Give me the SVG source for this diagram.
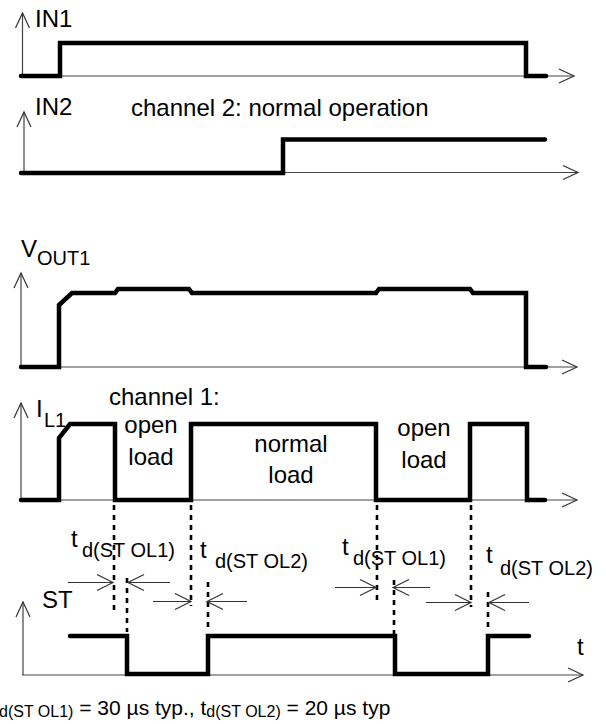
<svg xmlns="http://www.w3.org/2000/svg" width="606" height="724" viewBox="0 0 606 724">
<style>
text{font-family:"Liberation Sans",Arial,Helvetica,sans-serif;fill:#000}
.lbl{font-size:24px}
.sub{font-size:20px}
.mid{text-anchor:middle}
.axis{fill:none;stroke:#444;stroke-width:1.2}
.sig{fill:none;stroke:#000;stroke-width:4.5;stroke-linecap:round;stroke-linejoin:miter}
.dot{fill:none;stroke:#000;stroke-width:2.6;stroke-dasharray:5 5}
.dim{fill:none;stroke:#333;stroke-width:1.1}
</style>
<defs>
<marker id="ah" markerUnits="userSpaceOnUse" markerWidth="18" markerHeight="18" refX="16" refY="8" orient="auto" overflow="visible">
<path d="M0,0 L16,8 L0,16" fill="none" stroke="#333" stroke-width="1.2"/>
</marker>
<marker id="ax" markerUnits="userSpaceOnUse" markerWidth="18" markerHeight="18" refX="15" refY="7" orient="auto" overflow="visible">
<path d="M0,0 L15,7 L0,14" fill="none" stroke="#333" stroke-width="1.2"/>
</marker>
</defs>

<g id="in1">
<line class="axis" x1="22.5" y1="76" x2="22.5" y2="13" marker-end="url(#ax)"/>
<line class="axis" x1="20" y1="76" x2="574" y2="76" marker-end="url(#ax)"/>
<path class="sig" d="M21,76 H60 V43 H526 V76 H546"/>
<text class="lbl" x="35" y="27">IN1</text>
</g>

<g id="in2">
<line class="axis" x1="24" y1="173" x2="24" y2="112" marker-end="url(#ax)"/>
<line class="axis" x1="22" y1="172.5" x2="578" y2="172.5" marker-end="url(#ax)"/>
<path class="sig" d="M21,173 H283 V139.5 H545"/>
<text class="lbl" x="35" y="115">IN2</text>
<text class="lbl" x="131" y="116" font-size="25">channel 2: normal operation</text>
</g>

<g id="vout1">
<line class="axis" x1="21" y1="367" x2="21" y2="273" marker-end="url(#ax)"/>
<line class="axis" x1="21" y1="367" x2="577" y2="367" marker-end="url(#ax)"/>
<path class="sig" d="M21,367 H59 V305 L72,293 H115 L118,289 H189 L192,293 H376 L379,289 H470 L473,293 H526 V367 H546"/>
<text class="lbl" x="21" y="257">V<tspan class="sub" x="37" y="265">OUT1</tspan></text>
</g>

<g id="il1">
<line class="axis" x1="21" y1="500" x2="21" y2="403" marker-end="url(#ax)"/>
<line class="axis" x1="21" y1="500" x2="577" y2="500" marker-end="url(#ax)"/>
<path class="sig" d="M21,500 H59 V438 L70,424 H115 V500 H191 V424 H376 V500 H470 V424 H527 V500 H545"/>
<text class="lbl" x="36" y="417">I<tspan class="sub" x="44" y="427">L1</tspan></text>
<text class="lbl" x="109" y="405">channel 1:</text>
<text class="lbl mid" x="151" y="433">open</text>
<text class="lbl mid" x="151" y="465">load</text>
<text class="lbl mid" x="291" y="452">normal</text>
<text class="lbl mid" x="291" y="483">load</text>
<text class="lbl mid" x="424" y="436">open</text>
<text class="lbl mid" x="424" y="468">load</text>
</g>

<g id="st">
<line class="axis" x1="23" y1="675" x2="23" y2="602" marker-end="url(#ax)"/>
<line class="axis" x1="22" y1="675" x2="583" y2="675" marker-end="url(#ax)"/>
<path class="sig" d="M70,636 H127 V674 H208 V636 H395 V674 H488 V636 H529"/>
<text class="lbl" x="42" y="608">ST</text>
<text class="lbl" x="577" y="655">t</text>
</g>

<g id="timing-labels">
<text class="lbl" x="71" y="547">t</text>
<text class="sub" x="82" y="557">d(ST OL1)</text>
<text class="lbl" x="200" y="558">t</text>
<text class="sub" x="215" y="568">d(ST OL2)</text>
<text class="lbl" x="342" y="555">t</text>
<text class="sub" x="353" y="565">d(ST OL1)</text>
<text class="lbl" x="486" y="563">t</text>
<text class="sub" x="500" y="575">d(ST OL2)</text>
</g>

<g id="connectors">
<line class="dot" x1="114" y1="505" x2="114" y2="610"/>
<line class="dot" x1="127" y1="578" x2="127" y2="632"/>
<line class="dot" x1="191" y1="505" x2="191" y2="606"/>
<line class="dot" x1="208" y1="582" x2="208" y2="632"/>
<line class="dot" x1="377" y1="505" x2="377" y2="602"/>
<line class="dot" x1="394" y1="580" x2="394" y2="634"/>
<line class="dot" x1="471" y1="505" x2="471" y2="607"/>
<line class="dot" x1="488" y1="592" x2="488" y2="632"/>
<line class="dim" x1="68" y1="582.5" x2="113" y2="582.5" marker-end="url(#ah)"/>
<line class="dim" x1="170" y1="582.5" x2="128" y2="582.5" marker-end="url(#ah)"/>
<line class="dim" x1="153" y1="601.5" x2="191" y2="601.5" marker-end="url(#ah)"/>
<line class="dim" x1="247" y1="601.5" x2="207" y2="601.5" marker-end="url(#ah)"/>
<line class="dim" x1="335" y1="587.5" x2="376" y2="587.5" marker-end="url(#ah)"/>
<line class="dim" x1="430" y1="587.5" x2="393" y2="587.5" marker-end="url(#ah)"/>
<line class="dim" x1="426" y1="602.5" x2="471" y2="602.5" marker-end="url(#ah)"/>
<line class="dim" x1="529" y1="602.5" x2="489" y2="602.5" marker-end="url(#ah)"/>
</g>

<g id="footnote">
<text x="-1" y="715" font-size="21"><tspan font-size="16" dy="2">d(ST OL1)</tspan><tspan dy="-2"> = 30 µs typ., t</tspan><tspan font-size="16" dy="2">d(ST OL2)</tspan><tspan dy="-2"> = 20 µs typ</tspan></text>
</g>
</svg>
